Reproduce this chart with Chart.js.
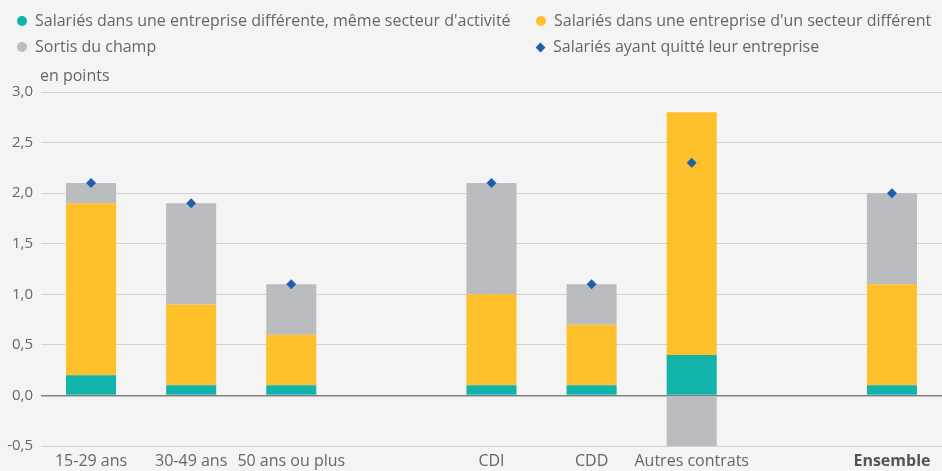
<!DOCTYPE html>
<html lang="fr">
<head>
<meta charset="utf-8">
<script src="https://cdn.jsdelivr.net/npm/chart.js@4/dist/chart.umd.min.js"></script>
<style>
  html, body { margin: 0; padding: 0; background: #f4f4f4; }
  #wrap { position: relative; width: 942px; height: 471px; font-family: "Open Sans", sans-serif; color: #666; }
  #chart { position: absolute; left: 0; top: 0; }
  .leg { position: absolute; font-size: 16px; line-height: 22px; white-space: nowrap; }
  .leg i { display: inline-block; width: 10px; height: 10px; border-radius: 50%; margin-right: 8px; vertical-align: 0px; }
  .leg i.dia { border-radius: 0; width: 7px; height: 7px; transform: rotate(45deg); margin-left: 1px; margin-right: 9px; vertical-align: 1px; }
  #unit { position: absolute; left: 40px; top: 64px; font-size: 16px; }
</style>
</head>
<body>
<div id="wrap">
  <canvas id="chart" width="942" height="471"></canvas>
  <div class="leg" style="left:17px;top:9px"><i style="background:#12b3aa"></i>Salariés dans une entreprise différente, même secteur d'activité</div>
  <div class="leg" style="left:536px;top:9px"><i style="background:#ffc12b"></i>Salariés dans une entreprise d'un secteur différent</div>
  <div class="leg" style="left:17px;top:35px"><i style="background:#bbbcc0"></i>Sortis du champ</div>
  <div class="leg" style="left:536px;top:35px"><i class="dia" style="background:#1d5fae"></i>Salariés ayant quitté leur entreprise</div>
  <div id="unit">en points</div>
</div>
<script>
// categories (empty strings are the gaps between groups)
const categories = ["15-29 ans", "30-49 ans", "50 ans ou plus", "", "CDI", "CDD", "Autres contrats", "", "Ensemble"];

const memeSecteur   = [0.2, 0.1, 0.1, null, 0.1, 0.1, 0.4, null, 0.1];
const autreSecteur  = [1.7, 0.8, 0.5, null, 0.9, 0.6, 2.4, null, 1.0];
const sortisChamp   = [0.2, 1.0, 0.5, null, 1.1, 0.4, -0.5, null, 0.9];
const ayantQuitte   = [2.1, 1.9, 1.1, null, 2.1, 1.1, 2.3, null, 2.0];

const yTicks = [-0.5, 0, 0.5, 1, 1.5, 2, 2.5, 3];

const fmt = v => v.toFixed(1).replace(".", ",");

const ctx = document.getElementById("chart").getContext("2d");
new Chart(ctx, {
  type: "bar",
  data: {
    labels: categories,
    datasets: [
      {
        type: "line",
        label: "Salariés ayant quitté leur entreprise",
        data: ayantQuitte,
        stack: "total",
        showLine: false,
        pointStyle: "rectRot",
        pointRadius: 5,
        backgroundColor: "#1d5fae",
        borderColor: "#1d5fae",
        borderWidth: 0,
        order: 0
      },
      {
        label: "Salariés dans une entreprise différente, même secteur d'activité",
        data: memeSecteur,
        stack: "bars",
        backgroundColor: "#12b3aa",
        order: 1
      },
      {
        label: "Salariés dans une entreprise d'un secteur différent",
        data: autreSecteur,
        stack: "bars",
        backgroundColor: "#ffc12b",
        order: 1
      },
      {
        label: "Sortis du champ",
        data: sortisChamp,
        stack: "bars",
        backgroundColor: "#bbbcc0",
        order: 1
      }
    ]
  },
  options: {
    responsive: false,
    animation: false,
    layout: { autoPadding: false, padding: { top: 92, right: 0, left: 0, bottom: 0 } },
    datasets: {
      bar: { barPercentage: 0.5, categoryPercentage: 1.0 }
    },
    plugins: {
      legend: { display: false },
      tooltip: { enabled: false }
    },
    scales: {
      x: {
        stacked: true,
        afterFit: axis => { axis.height = 25; axis.paddingLeft = 0; axis.paddingRight = 0; },
        grid: { display: false, drawTicks: false },
        border: { display: false },
        ticks: {
          color: ctx => ctx.index === 8 ? "#555" : "#666",
          font: ctx => ({ family: "Open Sans", size: 16, weight: ctx.index === 8 ? "bold" : "normal" }),
          padding: 6,
          maxRotation: 0,
          autoSkip: false
        }
      },
      y: {
        stacked: true,
        min: -0.5,
        max: 3,
        afterBuildTicks: axis => { axis.ticks = yTicks.map(v => ({ value: v })); },
        afterFit: axis => { axis.width = 41; },
        grid: {
          color: c => c.tick && c.tick.value === 0 ? "#808080" : "#d2d2d2",
          lineWidth: c => c.tick && c.tick.value === 0 ? 1.5 : 1,
          drawTicks: false
        },
        border: { display: false },
        ticks: {
          color: "#666",
          font: { family: "Open Sans", size: 15 },
          padding: 8,
          callback: v => fmt(v)
        }
      }
    }
  }
});
</script>
</body>
</html>
